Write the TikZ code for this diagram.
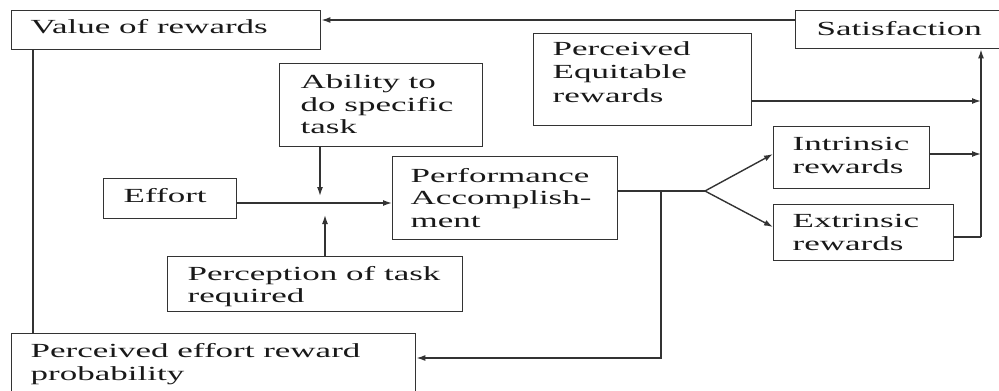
\documentclass[tikz,border=0pt]{standalone}
\usepackage{fontspec}
\setmainfont{Liberation Serif}[FakeStretch=1.75]
\usetikzlibrary{arrows.meta}
\begin{document}
\begin{tikzpicture}[x=1pt,y=-1pt, line width=1.4pt, color=black!80,
  boxnode/.style={draw=black!80, line width=1.4pt, rectangle, inner sep=0pt, anchor=north west},
  txt/.style={anchor=base west, inner sep=0pt, align=left, font=\fontsize{20pt}{23pt}\selectfont, text=black!90},
  arr/.style={-{Latex[length=9pt,width=6pt]}}]
\useasboundingbox (0,0) rectangle (999,391);
\clip (0,0) rectangle (999,391);
% boxes
\node[boxnode, minimum width=309pt, minimum height=39pt] (val) at (11,10) {};
\node[boxnode, minimum width=215pt, minimum height=38pt] (sat) at (795,10) {};
\node[boxnode, minimum width=218pt, minimum height=92pt] (equ) at (533,33) {};
\node[boxnode, minimum width=203pt, minimum height=83pt] (abi) at (279,63) {};
\node[boxnode, minimum width=133pt, minimum height=40pt] (eff) at (103,178) {};
\node[boxnode, minimum width=225pt, minimum height=83pt] (per) at (392,156) {};
\node[boxnode, minimum width=156pt, minimum height=62pt] (intr) at (773,126) {};
\node[boxnode, minimum width=180pt, minimum height=56pt] (extr) at (773,204) {};
\node[boxnode, minimum width=295pt, minimum height=55pt] (pcp) at (167,256) {};
\node[boxnode, minimum width=404pt, minimum height=70pt] (prob) at (11,333) {};
% texts
\node[txt] (valT) at (30,33) {Value of rewards};
\node[txt] (satT) at (816,35) {Satisfaction};
\node[txt] (equT1) at (552,55) {Perceived};
\node[txt] (equT2) at (552,78.5) {Equitable};
\node[txt] (equT3) at (552,102) {rewards};
\node[txt] (abiT1) at (300,88) {Ability to};
\node[txt] (abiT2) at (300,111) {do specific};
\node[txt] (abiT3) at (300,133.5) {task};
\node[txt] (effT) at (123,202) {Effort};
\node[txt] (perT1) at (410,182) {Performance};
\node[txt] (perT2) at (410,204.5) {Accomplish-};
\node[txt] (perT3) at (410,227) {ment};
\node[txt] (intrT1) at (792,150) {Intrinsic};
\node[txt] (intrT2) at (792,173) {rewards};
\node[txt] (extrT1) at (792,227) {Extrinsic};
\node[txt] (extrT2) at (792,250) {rewards};
\node[txt] (pcpT1) at (187,280) {Perception of task};
\node[txt] (pcpT2) at (187,302) {required};
\node[txt] (probT1) at (30,357) {Perceived effort reward};
\node[txt] (probT2) at (30,380) {probability};
% coordinates
\coordinate (junc) at (320,203);
\coordinate (split) at (705,191);
\coordinate (drop) at (661,191);
\coordinate (rail) at (981,237);
% connectors
\draw[arr] (sat.west |- 0,20) -- (val.east |- 0,20);
\draw (val.south -| 33,0) -- (prob.north -| 33,0);
\draw[arr] (eff.east |- 0,203) -- (per.west |- 0,203);
\draw[arr] (abi.south -| junc) -- (320,196);
\draw[arr] (pcp.north -| 325,0) -- (325,215);
\draw (per.east |- split) -- (split);
\draw[arr] (split) -- (intr.west |- 0,154);
\draw[arr] (split) -- (extr.west |- 0,227);
\draw[arr] (drop) -- (661,358) -- (prob.east |- 0,358);
\draw (extr.east |- rail) -- (rail);
\draw[arr] (rail) -- (sat.south -| rail);
\draw[arr] (equ.east |- 0,101) -- (rail |- 0,101);
\draw[arr] (intr.east |- 0,154) -- (rail |- 0,154);
\end{tikzpicture}
\end{document}
